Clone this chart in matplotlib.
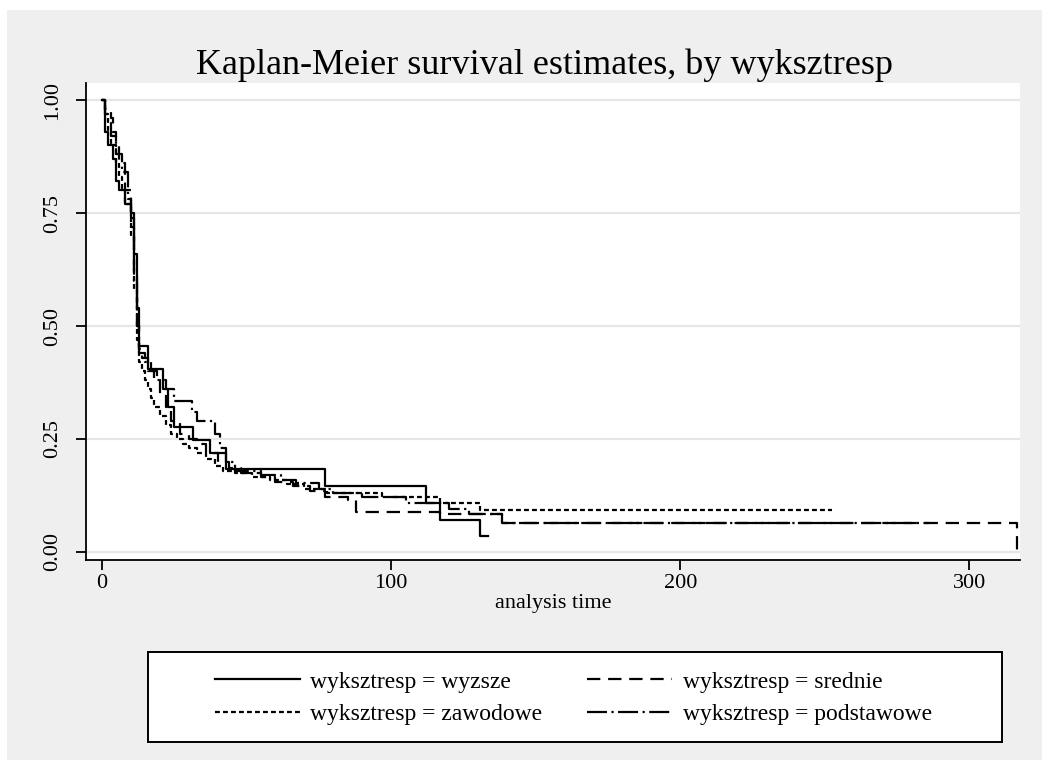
import numpy as np
import matplotlib.pyplot as plt
from matplotlib.patches import Rectangle

plt.rcParams['font.family'] = ['Liberation Serif', 'DejaVu Serif']

# Kaplan-Meier step points (time, survival)
t_wyzsze = [0, 1, 2, 4, 5, 6, 8, 10, 11, 12, 13, 16, 21, 23, 25, 31.5, 37.5, 43,
            77, 112, 117, 130.6, 133.5]
s_wyzsze = [1.0, 0.93, 0.90, 0.87, 0.82, 0.80, 0.77, 0.75, 0.66, 0.54, 0.456, 0.405,
            0.36, 0.32, 0.277, 0.248, 0.22, 0.184, 0.146, 0.108, 0.071, 0.035, 0.035]

t_srednie = [0, 1, 3, 4, 5, 6, 8, 10, 11, 12, 13, 14, 16, 18, 20, 22, 24, 27, 30, 33,
             36, 40, 44, 48, 55, 60, 66, 72, 77, 85, 88, 117, 138.5, 316.5]
s_srednie = [1.0, 0.98, 0.96, 0.93, 0.90, 0.86, 0.80, 0.74, 0.62, 0.50, 0.45, 0.43,
             0.40, 0.38, 0.35, 0.32, 0.29, 0.26, 0.25, 0.24, 0.22, 0.20, 0.185, 0.175,
             0.165, 0.155, 0.145, 0.135, 0.122, 0.115, 0.089, 0.083, 0.0635, 0.0]

t_zawodowe = [0, 1, 2, 3, 5, 6, 7, 8, 10, 11, 12, 13, 14, 15, 16, 17, 18, 20, 22, 24,
              26, 28, 30, 33, 36, 39, 42, 46, 52, 58, 64, 70, 78, 97, 117, 130.6, 252.5]
s_zawodowe = [1.0, 0.97, 0.93, 0.90, 0.86, 0.83, 0.80, 0.77, 0.70, 0.58, 0.47, 0.42,
              0.40, 0.38, 0.36, 0.34, 0.32, 0.30, 0.28, 0.26, 0.25, 0.24, 0.23, 0.22,
              0.205, 0.19, 0.18, 0.175, 0.165, 0.16, 0.15, 0.14, 0.13, 0.121, 0.108,
              0.093, 0.093]

t_podst = [0, 1, 2, 3, 5, 7, 9, 10, 11, 12, 13, 15, 17, 19, 22, 25, 31, 33, 39, 41, 43,
           46, 55, 62, 67, 75, 80, 90, 105, 120, 127, 138.5, 286]
s_podst = [1.0, 0.97, 0.95, 0.92, 0.88, 0.84, 0.78, 0.72, 0.60, 0.50, 0.44, 0.42, 0.40,
           0.38, 0.36, 0.333, 0.31, 0.29, 0.26, 0.23, 0.20, 0.18, 0.17, 0.16, 0.152,
           0.14, 0.13, 0.122, 0.109, 0.095, 0.085, 0.0635, 0.0635]

labels = ['wyksztresp = wyzsze', 'wyksztresp = srednie',
          'wyksztresp = zawodowe', 'wyksztresp = podstawowe']
xticks = [0, 100, 200, 300]
yticks = [0, 0.25, 0.5, 0.75, 1.0]

fig = plt.figure(figsize=(10.5, 7.71), dpi=100, facecolor='white')
fig.patches.append(Rectangle((0.0067, 0.0143), 0.9857, 0.9728, transform=fig.transFigure,
                             facecolor='#efefef', edgecolor='none', zorder=-10))

ax = fig.add_axes([0.0819, 0.2737, 0.8895, 0.6186])
ax.set_facecolor('white')

lw = 1.6
curves = [
    (t_wyzsze, s_wyzsze, '-'),
    (t_srednie, s_srednie, (0, (6, 3.5))),
    (t_zawodowe, s_zawodowe, (0, (2.2, 1.4))),
    (t_podst, s_podst, (0, (9, 2, 1, 2))),
]
handles = []
for (t, s, ls), lab in zip(curves, labels):
    h, = ax.step(t, s, where='post', color='black', lw=lw, linestyle=ls, label=lab)
    handles.append(h)

ax.set_xlim(-5.5, 317.5)
ax.set_ylim(-0.0177, 1.0376)
ax.set_xticks(xticks)
ax.set_yticks(yticks)
ax.set_yticklabels(['0.00', '0.25', '0.50', '0.75', '1.00'], rotation=90, va='center')
ax.grid(axis='y', color='#e6e6e6', lw=1.6)
ax.set_axisbelow(True)
for side in ['top', 'right']:
    ax.spines[side].set_visible(False)
for side in ['left', 'bottom']:
    ax.spines[side].set_linewidth(1.3)
ax.tick_params(axis='both', direction='out', length=7, width=1.3, labelsize=16)
ax.tick_params(axis='x', pad=3)
ax.tick_params(axis='y', pad=10)
ax.set_xlabel('analysis time', fontsize=16, labelpad=1)

fig.text(0.519, 0.916, 'Kaplan-Meier survival estimates, by wyksztresp',
         ha='center', va='center', fontsize=26)

# legend box drawn separately so its size matches the original
fig.patches.append(Rectangle((148 / 1050, 1 - 742 / 771), 854 / 1050, 90 / 771,
                             transform=fig.transFigure, facecolor='white',
                             edgecolor='black', lw=1.4, zorder=1))
order = [0, 2, 1, 3]
leg = fig.legend([handles[i] for i in order], [labels[i] for i in order],
                 loc='center left', bbox_to_anchor=(203 / 1050, 1 - 698 / 771), ncol=2,
                 fontsize=17, handlelength=3.6, handletextpad=0.45,
                 columnspacing=1.9, borderpad=0, labelspacing=0.45, frameon=False)
leg.set_zorder(2)

fig.savefig('out.png', dpi=100, facecolor=fig.get_facecolor())
